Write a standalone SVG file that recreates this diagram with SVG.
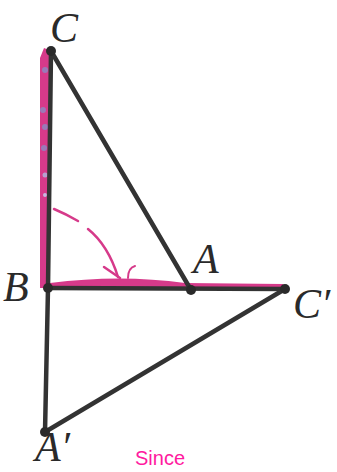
<svg xmlns="http://www.w3.org/2000/svg" width="337" height="472" viewBox="0 0 337 472">
<style>
.ln{stroke:#333;stroke-width:4.5;fill:none;stroke-linecap:round}
.pt{fill:#2a2a2a}
.lb{font-family:"Liberation Serif",serif;font-style:italic;font-size:42px;fill:#2a2a2a}
.hl{fill:#d63a8a}
.pk{stroke:#d63a8a;fill:none;stroke-linecap:round}
</style>
<g id="highlights">
<path class="hl" d="M40,288 L40,58 L44,48 L49,50 L49,288 Z"/>
<circle cx="45" cy="70" r="3" fill="#9a7ab8"/>
<circle cx="43" cy="110" r="3" fill="#9a7ab8"/>
<circle cx="45" cy="127" r="3" fill="#9a7ab8"/>
<circle cx="44" cy="148" r="3" fill="#9a7ab8"/>
<circle cx="45" cy="175" r="2.5" fill="#b7a0d0"/>
<circle cx="45" cy="195" r="2" fill="#c8b8e0"/>
<path class="hl" d="M50,283 Q120,274 185,283 L283,284 L283,290 L50,290 Z"/>
</g>
<g id="arc">
<path class="pk" stroke-width="2.5" d="M54,209 Q66,214 78,221"/>
<path class="pk" stroke-width="2.5" d="M88,229 Q108,245 118,277"/>
<path class="pk" stroke-width="2.5" d="M104,267 L120,278"/>
<path class="pk" stroke-width="2" d="M128,278 Q128,268 135,266"/>
</g>
<g id="connectors">
<line class="ln" x1="51" y1="51" x2="48" y2="288"/>
<line class="ln" x1="51" y1="51" x2="191" y2="290"/>
<line class="ln" x1="48" y1="288" x2="285" y2="289"/>
<line class="ln" x1="48" y1="288" x2="45" y2="432"/>
<line class="ln" x1="45" y1="432" x2="285" y2="289"/>
</g>
<g id="node-C"><circle class="pt" cx="51" cy="51" r="5"/><text class="lb" x="50" y="42">C</text></g>
<g id="node-B"><circle class="pt" cx="48" cy="288" r="5"/><text class="lb" x="3" y="301">B</text></g>
<g id="node-A"><circle class="pt" cx="191" cy="290" r="5"/><text class="lb" x="193" y="273">A</text></g>
<g id="node-C2"><circle class="pt" cx="285" cy="289" r="5"/><text class="lb" x="293" y="318">C′</text></g>
<g id="node-A2"><circle class="pt" cx="45" cy="432" r="5"/><text class="lb" x="35" y="461" font-size="38">A′</text></g>
<text x="135" y="465" font-family="'Liberation Sans',sans-serif" font-size="20" fill="#ff1aa0">Since</text>
</svg>
